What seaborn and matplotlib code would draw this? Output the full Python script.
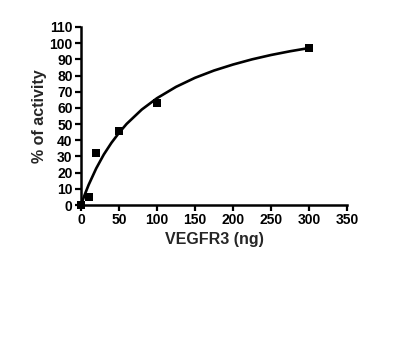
import numpy as np
import pandas as pd
import matplotlib
matplotlib.use("Agg")
import matplotlib.pyplot as plt
import seaborn as sns

# measured points
dose_ng = [0, 10, 20, 50, 100, 300]
activity = [0, 5, 32, 46, 63, 97]

# fitted curve
fit_x = [0, 5, 10, 20, 30, 40, 50, 60, 80, 100, 125, 150, 175, 200, 225, 250, 275, 300]
fit_y = [0, 6.5, 12.4, 22.6, 31.2, 38.4, 44.6, 50.1, 59.0, 66.0, 73.0, 78.6, 83.1, 86.8, 90.0, 92.7, 95.0, 97.0]

x_ticks = [0, 50, 100, 150, 200, 250, 300, 350]
y_ticks = list(range(0, 111, 10))

pts = pd.DataFrame({'dose': dose_ng, 'act': activity})
fit = pd.DataFrame({'dose': fit_x, 'act': fit_y})

sns.set_style("ticks")
plt.rcParams['font.family'] = ['Liberation Sans', 'DejaVu Sans']

fig = plt.figure(figsize=(3.98, 3.63), dpi=100)
ax = fig.add_axes([81/398, 1 - 205/363, 266/398, 178/363])

sns.lineplot(data=fit, x='dose', y='act', color='black', lw=1.9, ax=ax)
sns.scatterplot(data=pts, x='dose', y='act', marker='s', s=28, color='black',
                edgecolor='black', linewidth=0, ax=ax, clip_on=False, zorder=5)

ax.set_xlim(0, 350)
ax.set_ylim(0, 110)
ax.set_xticks(x_ticks)
ax.set_yticks(y_ticks)
ax.set_xlabel('VEGFR3 (ng)', fontsize=11.5, fontweight='bold', labelpad=3)
ax.set_ylabel('% of activity', fontsize=11.5, fontweight='bold', labelpad=2)
for lab in ax.get_xticklabels() + ax.get_yticklabels():
    lab.set_fontweight('bold')
ax.tick_params(axis='both', labelsize=10, width=1.6, length=4.5, pad=1.5, colors='black')
for s in ['left', 'bottom']:
    ax.spines[s].set_linewidth(1.8)
    ax.spines[s].set_color('black')
sns.despine(ax=ax)

fig.savefig('out.png', dpi=100)
